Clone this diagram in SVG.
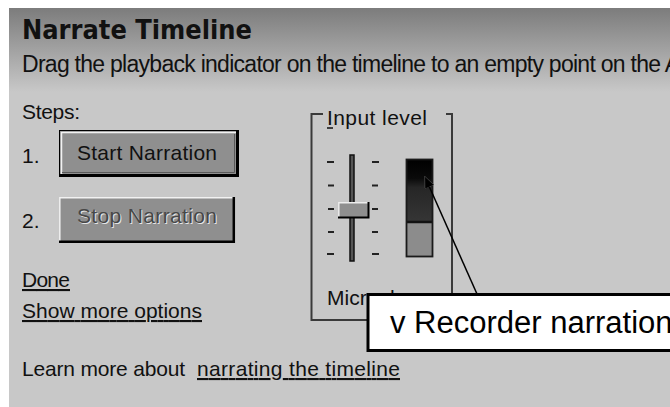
<svg xmlns="http://www.w3.org/2000/svg" width="670" height="407" viewBox="0 0 670 407">
  <defs>
    <linearGradient id="bg" gradientUnits="userSpaceOnUse" x1="0" y1="8" x2="0" y2="92">
      <stop offset="0" stop-color="#7c7c7c"/>
      <stop offset="1" stop-color="#c8c8c8"/>
    </linearGradient>
    <linearGradient id="meterTop" gradientUnits="userSpaceOnUse" x1="0" y1="160" x2="0" y2="221">
      <stop offset="0" stop-color="#000000"/>
      <stop offset="0.3" stop-color="#0a0a0a"/>
      <stop offset="0.45" stop-color="#262626"/>
      <stop offset="1" stop-color="#353535"/>
    </linearGradient>
    <marker id="arrow" markerWidth="12" markerHeight="10" refX="11" refY="5" orient="auto" markerUnits="userSpaceOnUse">
      <path d="M0,0 L12,5 L0,10 z" fill="#000" stroke="#555" stroke-width="0.6"/>
    </marker>
    <style>
      .ui { font-family: "Liberation Sans", Arial, sans-serif; font-size: 21px; fill: #111; }
      .title { font-family: "DejaVu Sans", "Liberation Sans", sans-serif; font-size: 26px; font-weight: bold; fill: #111; }
      .sub { font-family: "Liberation Sans", Arial, sans-serif; font-size: 23px; fill: #111; }
      .link { text-decoration: underline; }
      .btn { fill: #8f8f8f; }
      .hi { stroke: #f2f2f2; stroke-width: 1.5; fill: none; }
      .sh { stroke: #000; fill: none; }
      .grp { stroke: #3a3a3a; stroke-width: 2; fill: none; }
      .tick { stroke: #222; stroke-width: 2; }
      .callout-text { font-family: "Liberation Sans", Arial, sans-serif; font-size: 31px; fill: #000; }
    </style>
  </defs>

  <rect x="0" y="0" width="670" height="407" fill="#ffffff"/>
  <rect x="9" y="8" width="661" height="399" fill="url(#bg)"/>

  <g id="header">
    <text class="title" x="22" y="39" textLength="230" lengthAdjust="spacingAndGlyphs">Narrate Timeline</text>
    <text class="sub" x="22" y="72" textLength="658" lengthAdjust="spacing">Drag the playback indicator on the timeline to an empty point on the A</text>
  </g>

  <g id="steps">
    <text class="ui" x="22" y="119" textLength="58" lengthAdjust="spacing">Steps:</text>
    <text class="ui" x="22" y="163">1.</text>
    <text class="ui" x="22" y="228">2.</text>
  </g>

  <g id="start-button">
    <rect class="btn" x="59" y="130" width="180" height="47"/>
    <rect x="59.5" y="130.5" width="179" height="46" fill="none" stroke="#000" stroke-width="1"/>
    <polyline class="hi" points="61.5,174 61.5,132.5 236,132.5"/>
    <polyline class="sh" stroke-width="3" points="60,175.5 237.5,175.5 237.5,131"/>
    <polyline points="62,172.5 234.5,172.5 234.5,134" fill="none" stroke="#5a5a5a" stroke-width="1"/>
    <text class="ui" x="77" y="160" textLength="140" lengthAdjust="spacing">Start Narration</text>
  </g>

  <g id="stop-button">
    <rect class="btn" x="59" y="197" width="176" height="46"/>
    <polyline class="hi" points="59.8,242 59.8,197.8 234,197.8"/>
    <polyline class="sh" stroke-width="2.5" points="59,241.8 233.8,241.8 233.8,197"/>
    <text class="ui" x="78" y="224" textLength="140" lengthAdjust="spacing" style="fill:#e6e6e6">Stop Narration</text>
    <text class="ui" x="77" y="223" textLength="140" lengthAdjust="spacing" style="fill:#474747">Stop Narration</text>
  </g>

  <g id="links">
    <text class="ui link" x="22" y="287" textLength="48" lengthAdjust="spacing">Done</text>
    <text class="ui link" x="22" y="318" textLength="180" lengthAdjust="spacing">Show more options</text>
    <text class="ui" x="22" y="376" textLength="163" lengthAdjust="spacing">Learn more about</text>
    <text class="ui link" x="197" y="376" textLength="203" lengthAdjust="spacing">narrating the timeline</text>
  </g>

  <g id="input-level">
    <path class="grp" d="M323,114 H311.5 V320 H452 V114 H446"/>
    <text class="ui" x="327" y="125" textLength="100" lengthAdjust="spacing">Input level</text>
    <line x1="327" y1="128" x2="333" y2="128" stroke="#111" stroke-width="1.5"/>
    <g id="slider">
      <rect x="350" y="155" width="4" height="106" fill="#555" stroke="#111" stroke-width="1.5"/>
      <line class="tick" x1="327" y1="162" x2="334" y2="162"/>
      <line class="tick" x1="328" y1="185.5" x2="334" y2="185.5"/>
      <line class="tick" x1="328" y1="209" x2="334" y2="209"/>
      <line class="tick" x1="328" y1="232" x2="334" y2="232"/>
      <line class="tick" x1="327" y1="254" x2="334" y2="254"/>
      <line class="tick" x1="372" y1="162" x2="379" y2="162"/>
      <line class="tick" x1="372" y1="185.5" x2="378" y2="185.5"/>
      <line class="tick" x1="372" y1="209" x2="378" y2="209"/>
      <line class="tick" x1="372" y1="232" x2="378" y2="232"/>
      <line class="tick" x1="372" y1="254" x2="379" y2="254"/>
      <rect x="338" y="202" width="31" height="16" fill="#8f8f8f"/>
      <polyline points="338.8,217 338.8,202.8 368,202.8" fill="none" stroke="#eeeeee" stroke-width="1.5"/>
      <polyline points="338,217.5 368.5,217.5 368.5,202" fill="none" stroke="#000" stroke-width="2"/>
    </g>
    <g id="meter">
      <rect x="406" y="159" width="27" height="98" fill="#8c8c8c"/>
      <rect x="406" y="159" width="27" height="63" fill="url(#meterTop)"/>
      <line x1="406" y1="222" x2="433" y2="222" stroke="#111" stroke-width="2.5"/>
      <rect x="406.5" y="159.5" width="26" height="97" fill="none" stroke="#1a1a1a" stroke-width="1.8"/>
    </g>
    <text class="ui" x="327" y="305">Microphone</text>
  </g>

  <g id="connectors">
    <line x1="477" y1="294" x2="425" y2="177" stroke="#000" stroke-width="1.5" marker-end="url(#arrow)"/>
  </g>

  <g id="callout">
    <rect x="368" y="294.5" width="310" height="56" fill="#ffffff" stroke="#000" stroke-width="3"/>
    <text class="callout-text" x="390" y="333">v Recorder narration</text>
  </g>
</svg>
